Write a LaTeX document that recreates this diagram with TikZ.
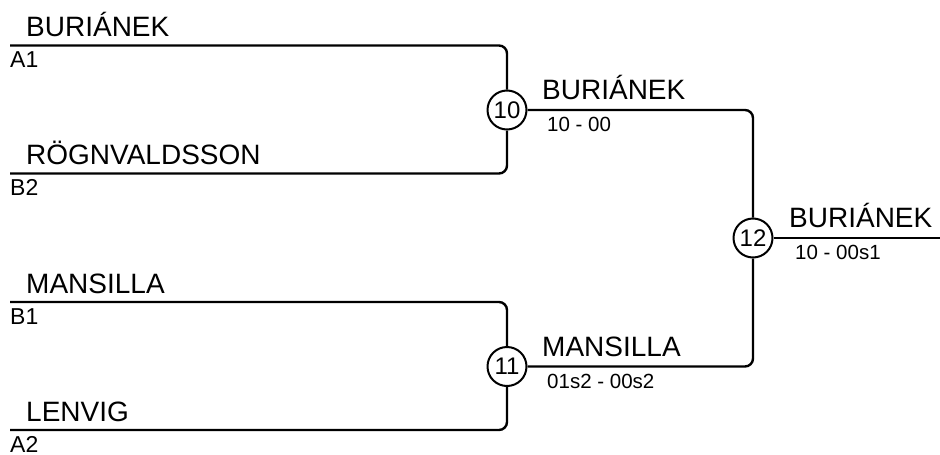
\documentclass[tikz,border=0pt]{standalone}
\usepackage{fontspec}
\setmainfont{Liberation Sans}
\begin{document}
\begin{tikzpicture}[x=1pt,y=-1pt,
  bline/.style={line width=2.4pt,rounded corners=8pt},
  mcircle/.style={circle,draw,line width=2pt,fill=white,minimum size=39pt,inner sep=0pt,font=\fontsize{24}{24}\selectfont},
  plabel/.style={anchor=base west,inner sep=0pt,font=\fontsize{28}{28}\selectfont},
  seedlbl/.style={anchor=base west,inner sep=0pt,font=\fontsize{23}{23}\selectfont},
  scorelbl/.style={anchor=base west,inner sep=0pt,font=\fontsize{20.5}{20.5}\selectfont}]
\useasboundingbox (0,0) rectangle (940,455);
% match circles
\node[mcircle] (m10) at (507,110) {10};
\node[mcircle] (m11) at (507,366.5) {11};
\node[mcircle] (m12) at (753,238) {12};
% line starts
\coordinate (pA1) at (10,45.5);
\coordinate (pB2) at (10,173.5);
\coordinate (pB1) at (10,302);
\coordinate (pA2) at (10,430);
\coordinate (fin) at (940,238);
% connectors
\draw[bline] (pA1) -| (m10);
\draw[bline] (pB2) -| (m10);
\draw[bline] (pB1) -| (m11);
\draw[bline] (pA2) -| (m11);
\draw[bline] (m10) -| (m12);
\draw[bline] (m11) -| (m12);
\draw[bline] (m12) -- (fin);
% names
\node[plabel] (n1) at (26,36) {BURIÁNEK};
\node[seedlbl] (s1) at (10,67) {A1};
\node[plabel] (n2) at (26,164) {RÖGNVALDSSON};
\node[seedlbl] (s2) at (10,195) {B2};
\node[plabel] (n3) at (26,293) {MANSILLA};
\node[seedlbl] (s3) at (10,324) {B1};
\node[plabel] (n4) at (26,421) {LENVIG};
\node[seedlbl] (s4) at (10,452) {A2};
% round 2
\node[plabel] (w10) at (542,99.5) {BURIÁNEK};
\node[scorelbl] (r10) at (547,131.5) {10 - 00};
\node[plabel] (w11) at (542,356.5) {MANSILLA};
\node[scorelbl] (r11) at (547,388.5) {01s2 - 00s2};
% final
\node[plabel] (w12) at (789,227.5) {BURIÁNEK};
\node[scorelbl] (r12) at (795,259.5) {10 - 00s1};
\end{tikzpicture}
\end{document}
